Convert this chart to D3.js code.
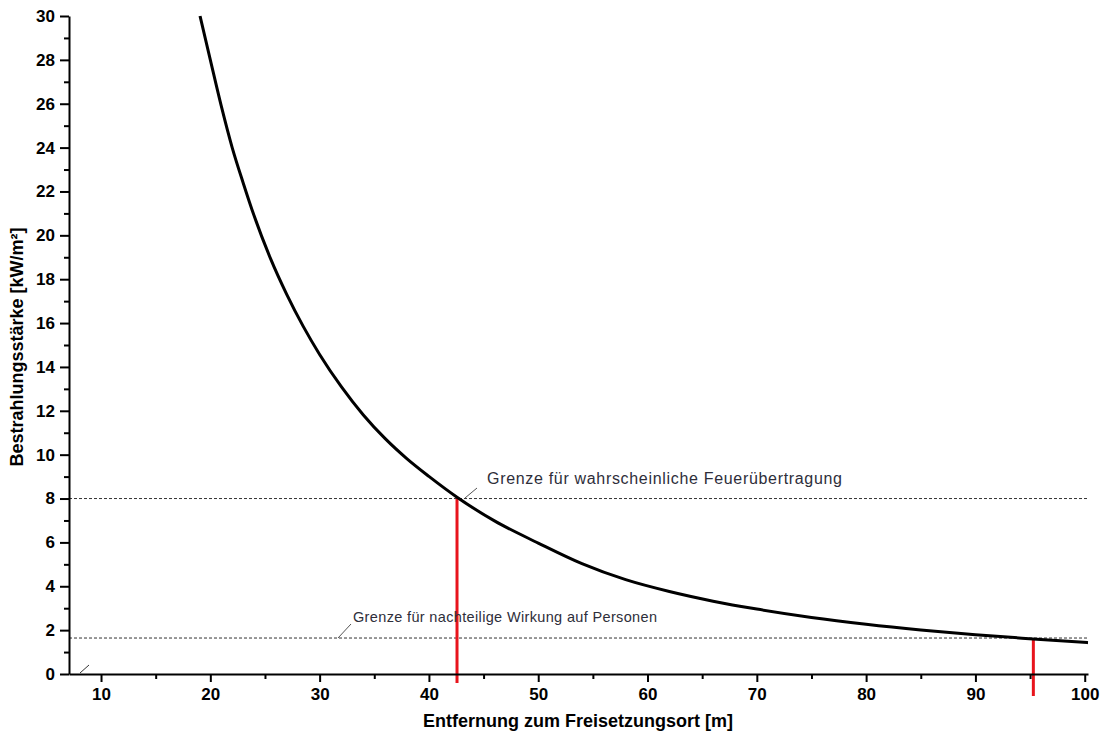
<!DOCTYPE html>
<html>
<head>
<meta charset="utf-8">
<script src="https://cdn.jsdelivr.net/npm/d3@7"></script>
<style>
  html, body { margin: 0; padding: 0; background: #fff; }
  svg { display: block; font-family: "Liberation Sans", Arial, sans-serif; }
</style>
</head>
<body>
<svg id="chart" width="1109" height="734"></svg>
<script>
// ---- data ----
const distance = [19.06, 20, 21, 22, 23, 24, 25.5, 27, 28.5, 30, 32, 34, 36, 38, 40, 42.57, 46, 50, 54, 58, 62, 66, 70, 75, 80, 85, 90, 95.27, 100.3];
const irradiance = [30.0, 28.0, 25.9, 24.0, 22.4, 20.9, 18.95, 17.3, 15.85, 14.57, 13.09, 11.81, 10.73, 9.81, 9.01, 8.06, 6.98, 5.97, 5.03, 4.30, 3.76, 3.32, 2.96, 2.58, 2.27, 2.01, 1.79, 1.60, 1.43];
const thresholdValues = [8.0, 1.64];
const thresholdLabels = ["Grenze für wahrscheinliche Feuerübertragung", "Grenze für nachteilige Wirkung auf Personen"];
const markerDistances = [42.57, 95.3];
const xMajorTicks = [10, 20, 30, 40, 50, 60, 70, 80, 90, 100];
const xMinorTicks = [15, 25, 35, 45, 55, 65, 75, 85, 95];
const yMajorTicks = [0, 2, 4, 6, 8, 10, 12, 14, 16, 18, 20, 22, 24, 26, 28, 30];
const yMinorTicks = [1, 3, 5, 7, 9, 11, 13, 15, 17, 19, 21, 23, 25, 27, 29];
const xTitle = "Entfernung zum Freisetzungsort [m]";
const yTitle = "Bestrahlungsstärke [kW/m²]";

// ---- layout ----
const svg = d3.select("#chart");
const x = d3.scaleLinear().domain([7.07, 100.3]).range([69, 1088]);
const y = d3.scaleLinear().domain([0, 30]).range([674, 16]);

// threshold dashed lines
svg.selectAll("line.thr").data(thresholdValues).join("line")
  .attr("class", "thr")
  .attr("x1", x.range()[0]).attr("x2", x.range()[1])
  .attr("y1", d => y(d)).attr("y2", d => y(d))
  .attr("stroke", "#333").attr("stroke-width", 1)
  .attr("stroke-dasharray", "3,2");

// red marker lines
const markerBottoms = [683, 696];
svg.selectAll("line.mark").data(markerDistances).join("line")
  .attr("class", "mark")
  .attr("x1", d => x(d)).attr("x2", d => x(d))
  .attr("y1", (d, i) => y(thresholdValues[i]))
  .attr("y2", (d, i) => markerBottoms[i])
  .attr("stroke", "#e8141c").attr("stroke-width", 3);

// curve
const line = d3.line().x((d, i) => x(distance[i])).y(d => y(d)).curve(d3.curveMonotoneX);
svg.append("path").attr("d", line(irradiance))
  .attr("fill", "none").attr("stroke", "#000").attr("stroke-width", 3)
  .attr("stroke-linejoin", "round");

// annotations
const ann = [
  { tx: 487, ty: 484, size: 16, w: 355, lx1: 465, ly1: 498, lx2: 477, ly2: 488 },
  { tx: 353, ty: 622, size: 14.5, w: 304, lx1: 338, ly1: 638, lx2: 351, ly2: 624 }
];
ann.forEach((a, i) => {
  svg.append("line").attr("x1", a.lx1).attr("y1", a.ly1).attr("x2", a.lx2).attr("y2", a.ly2)
    .attr("stroke", "#555").attr("stroke-width", 1);
  svg.append("text").attr("x", a.tx).attr("y", a.ty)
    .attr("font-size", a.size).attr("fill", "#2e2e3a")
    .attr("textLength", a.w).attr("lengthAdjust", "spacing")
    .text(thresholdLabels[i]);
});

// small break mark near origin
svg.append("line").attr("x1", 80).attr("y1", 673).attr("x2", 89).attr("y2", 665)
  .attr("stroke", "#333").attr("stroke-width", 1);

// axes
function styleAxis(g) {
  g.selectAll("path.domain").attr("stroke", "#000").attr("stroke-width", 2);
  g.selectAll(".tick line").attr("stroke", "#000").attr("stroke-width", 2);
  g.selectAll(".tick text").attr("fill", "#000").attr("font-size", 17).attr("font-weight", "bold")
    .attr("font-family", "'Liberation Sans', Arial, sans-serif");
}
const gxMinor = svg.append("g").attr("transform", `translate(0,${y(0)})`)
  .call(d3.axisBottom(x).tickValues(xMinorTicks).tickSize(5).tickSizeOuter(0).tickFormat(""));
gxMinor.select("path.domain").remove();
styleAxis(gxMinor);
const gx = svg.append("g").attr("transform", `translate(0,${y(0)})`)
  .call(d3.axisBottom(x).tickValues(xMajorTicks).tickSize(8).tickSizeOuter(0).tickPadding(6).tickFormat(d3.format("d")));
styleAxis(gx);

const gyMinor = svg.append("g").attr("transform", `translate(${x.range()[0]},0)`)
  .call(d3.axisLeft(y).tickValues(yMinorTicks).tickSize(5).tickSizeOuter(0).tickFormat(""));
gyMinor.select("path.domain").remove();
styleAxis(gyMinor);
const gy = svg.append("g").attr("transform", `translate(${x.range()[0]},0)`)
  .call(d3.axisLeft(y).tickValues(yMajorTicks).tickSize(9).tickSizeOuter(0).tickPadding(5).tickFormat(d3.format("d")));
styleAxis(gy);

// axis titles
svg.append("text").attr("x", 578).attr("y", 727).attr("text-anchor", "middle")
  .attr("font-size", 18).attr("font-weight", "bold").attr("fill", "#000").text(xTitle);
svg.append("text").attr("transform", "translate(23,347) rotate(-90)").attr("text-anchor", "middle")
  .attr("font-size", 18).attr("font-weight", "bold").attr("fill", "#000").text(yTitle);
</script>
</body>
</html>
